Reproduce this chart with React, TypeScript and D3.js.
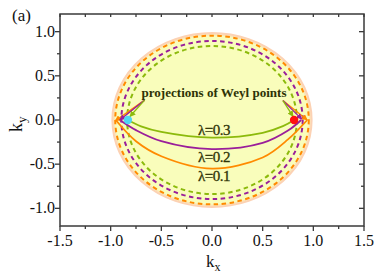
import React from "react";
import * as d3 from "d3";

const xTickValues = [-1.5, -1.0, -0.5, 0, 0.5, 1.0, 1.5];
const yTickValues = [-1.0, -0.5, 0, 0.5, 1.0];
const xMinorValues = [-1.25, -0.75, -0.25, 0.25, 0.75, 1.25];
const yMinorValues = [-0.75, -0.25, 0.25, 0.75];

const bulkRadius = 0.978;
// dashed surface contours: orange, purple, green
const contourRadii = [0.955, 0.895, 0.838];
const seriesColors = ["#ff8a00", "#9a1e9a", "#8cba0c"];

const orangeArc: [number, number][] = [[-0.95, 0], [-0.75, -0.24], [-0.5, -0.41], [0, -0.55], [0.5, -0.425], [0.75, -0.22], [0.94, 0]];
const purpleArc: [number, number][] = [[-0.91, 0], [-0.75, -0.115], [-0.5, -0.24], [0, -0.33], [0.5, -0.26], [0.75, -0.12], [0.88, 0]];
const greenArc: [number, number][] = [[-0.83, 0], [-0.7, -0.072], [-0.5, -0.135], [0, -0.2], [0.5, -0.145], [0.7, -0.07], [0.81, 0]];
const arcs = [orangeArc, purpleArc, greenArc];

const lambdaLabels = ["λ=0.1", "λ=0.2", "λ=0.3"];
const lambdaPos: [number, number][] = [[0.02, -0.69], [0.02, -0.47], [0.02, -0.17]];

const leftArrowStart: [number, number] = [-0.665, 0.225];
const rightArrowStart: [number, number] = [0.70, 0.22];
const leftTargets: [number, number][] = [[-0.955, -0.01], [-0.91, 0.0], [-0.81, 0.04]];
const rightTargets: [number, number][] = [[0.94, 0.0], [0.885, 0.01], [0.80, 0.04]];

const cyanPoint: [number, number] = [-0.83, 0];
const redPoint: [number, number] = [0.81, 0];

const W = 381, H = 273;
const M = { left: 60, top: 14, right: 17, bottom: 47 };

export default function App() {
  const x = d3.scaleLinear().domain([-1.5, 1.5]).range([M.left, W - M.right]);
  const y = d3.scaleLinear().domain([-1.2, 1.2]).range([H - M.bottom, M.top]);
  const line = d3.line<[number, number]>().x(d => x(d[0])).y(d => y(d[1])).curve(d3.curveCatmullRom.alpha(0.5));
  const x0 = x(0), y0 = y(0);
  const sx = x(1) - x(0), sy = y(0) - y(1);
  const axisColor = "#3a3a3a";
  const serif = "Tinos, 'Liberation Serif', 'Times New Roman', 'Nimbus Roman', 'DejaVu Serif', serif";
  const annot = "#2e3305";
  const l = M.left, r = W - M.right, t = M.top, b = H - M.bottom;
  return (
    <svg width={W} height={H} style={{ position: "absolute", left: 0, top: 0 }}>
      <defs>
        {seriesColors.map((c, i) => (
          <marker key={i} id={`ah${i}`} viewBox="0 0 10 10" refX="9" refY="5" markerWidth="6" markerHeight="6" orient="auto-start-reverse" markerUnits="userSpaceOnUse">
            <path d="M0,0 L10,5 L0,10 z" fill={c} />
          </marker>
        ))}
      </defs>
      <rect width={W} height={H} fill="#fff" />
      <ellipse cx={x0} cy={y0} rx={bulkRadius * sx} ry={bulkRadius * sy} fill="#f9fdbb" stroke="#fcd2b4" strokeWidth={3} />
      <ellipse cx={x0} cy={y0} rx={(bulkRadius - 0.012) * sx} ry={(bulkRadius - 0.012) * sy} fill="none" stroke="#fbe6b8" strokeWidth={1.5} />
      {contourRadii.map((rad, i) => (
        <ellipse key={i} cx={x0} cy={y0} rx={rad * sx} ry={rad * sy} fill="none" stroke={seriesColors[i]} strokeWidth={2} strokeDasharray="4.5,3.5" />
      ))}
      {arcs.map((a, i) => (
        <path key={i} d={line(a) || ""} fill="none" stroke={seriesColors[i]} strokeWidth={1.8} />
      ))}
      {leftTargets.map((p, i) => (
        <line key={"la" + i} x1={x(leftArrowStart[0])} y1={y(leftArrowStart[1])} x2={x(p[0])} y2={y(p[1])} stroke={seriesColors[i]} strokeWidth={1.3} markerEnd={`url(#ah${i})`} />
      ))}
      {rightTargets.map((p, i) => (
        <line key={"ra" + i} x1={x(rightArrowStart[0])} y1={y(rightArrowStart[1])} x2={x(p[0])} y2={y(p[1])} stroke={seriesColors[i]} strokeWidth={1.3} markerEnd={`url(#ah${i})`} />
      ))}
      <circle cx={x(cyanPoint[0])} cy={y(cyanPoint[1])} r={4.2} fill="#4fd6f5" />
      <circle cx={x(redPoint[0])} cy={y(redPoint[1])} r={4.2} fill="#ff1010" />
      <text x={x(0.02)} y={97} textAnchor="middle" fontFamily={serif} fontWeight="bold" fontSize={13} fill={annot} textLength={145} lengthAdjust="spacingAndGlyphs">projections of Weyl points</text>
      {lambdaLabels.map((s, i) => (
        <text key={s} x={x(lambdaPos[i][0])} y={y(lambdaPos[i][1])} textAnchor="middle" fontFamily={serif} fontSize={15} fill={annot} stroke={annot} strokeWidth={0.3} letterSpacing={-0.5}>{s}</text>
      ))}
      <rect x={l} y={t} width={r - l} height={b - t} fill="none" stroke={axisColor} strokeWidth={1.5} />
      {xTickValues.map(v => (
        <g key={"xt" + v}>
          <line x1={x(v)} x2={x(v)} y1={b} y2={b + 5} stroke={axisColor} strokeWidth={1.3} />
          <line x1={x(v)} x2={x(v)} y1={t} y2={t + 3} stroke={axisColor} strokeWidth={1.3} />
          <text x={x(v)} y={b + 20} textAnchor="middle" fontFamily={serif} fontSize={16} fill="#111">{v.toFixed(1)}</text>
        </g>
      ))}
      {xMinorValues.map(v => (
        <g key={"xm" + v}>
          <line x1={x(v)} x2={x(v)} y1={b} y2={b + 3} stroke={axisColor} strokeWidth={1.3} />
          <line x1={x(v)} x2={x(v)} y1={t} y2={t + 3} stroke={axisColor} strokeWidth={1.3} />
        </g>
      ))}
      {yTickValues.map(v => (
        <g key={"yt" + v}>
          <line x1={l - 5} x2={l} y1={y(v)} y2={y(v)} stroke={axisColor} strokeWidth={1.3} />
          <line x1={r - 5} x2={r} y1={y(v)} y2={y(v)} stroke={axisColor} strokeWidth={1.3} />
          <text x={l - 5} y={y(v) + 5} textAnchor="end" fontFamily={serif} fontSize={16} fill="#111">{v.toFixed(1)}</text>
        </g>
      ))}
      {yMinorValues.map(v => (
        <g key={"ym" + v}>
          <line x1={l - 3} x2={l} y1={y(v)} y2={y(v)} stroke={axisColor} strokeWidth={1.3} />
          <line x1={r - 3} x2={r} y1={y(v)} y2={y(v)} stroke={axisColor} strokeWidth={1.3} />
        </g>
      ))}
      <text x={206} y={267} fontFamily={serif} fontSize={17} fill="#111">k<tspan fontSize={12} dy={4}>x</tspan></text>
      <text transform={`translate(22,${y0 + 12}) rotate(-90)`} fontFamily={serif} fontSize={18} fill="#111">k<tspan fontSize={13} dy={4}>y</tspan></text>
      <text x={12} y={21} fontFamily={serif} fontSize={17} fill="#111">(a)</text>
    </svg>
  );
}
